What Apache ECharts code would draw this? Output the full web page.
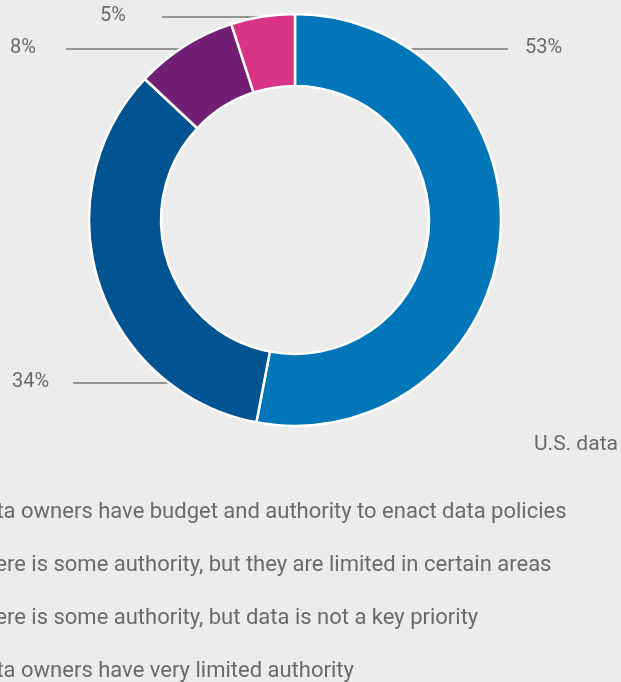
<!DOCTYPE html>
<html>
<head>
<meta charset="utf-8">
<script src="https://cdn.jsdelivr.net/npm/echarts@6/dist/echarts.min.js"></script>
<style>
html,body{margin:0;padding:0;background:#ebeceb;}
#chart{width:621px;height:682px;}
</style>
</head>
<body>
<div id="chart"></div>
<script>
const categories = [
  "Data owners have budget and authority to enact data policies",
  "There is some authority, but they are limited in certain areas",
  "There is some authority, but data is not a key priority",
  "Data owners have very limited authority"
];
const values = [53, 34, 8, 5];
const colors = ["#0376b9", "#015391", "#701f75", "#d93386"];
const subtitle = "U.S. data";

// layout (style) settings
const CX = 295, CY = 220, R_IN = 134, R_OUT = 206;
const labelAnchors = [
  { lineY: 49,  lineX: 508, textX: 525, side: 1 },
  { lineY: 383, lineX: 73,  textX: 12,  side: -1 },
  { lineY: 49,  lineX: 66,  textX: 10,  side: -1 },
  { lineY: 17,  lineX: 162, textX: 100, side: -1 }
];

const chart = echarts.init(document.getElementById('chart'), null, { renderer: 'canvas' });
const FONT = 'Roboto, "Noto Sans", sans-serif';

chart.setOption({
  backgroundColor: '#ebeceb',
  animation: false,
  title: {
    text: subtitle,
    left: 534,
    top: 434,
    padding: 0,
    textStyle: { fontFamily: FONT, fontSize: 21, fontWeight: 'normal', color: '#6a6a6a' }
  },
  legend: {
    orient: 'vertical',
    left: -61,
    top: 501,
    height: 220,
    padding: 0,
    itemGap: 31,
    itemWidth: 25,
    itemHeight: 14,
    icon: 'rect',
    textStyle: { fontFamily: FONT, fontSize: 22, fontWeight: 'normal', color: '#6a6a6a', lineHeight: 22 },
    data: categories
  },
  series: [{
    type: 'pie',
    center: [CX, CY],
    radius: [R_IN, R_OUT],
    startAngle: 90,
    clockwise: true,
    avoidLabelOverlap: false,
    itemStyle: { borderColor: '#ffffff', borderWidth: 2.5 },
    label: {
      show: true,
      position: 'outside',
      formatter: '{c}%',
      fontFamily: FONT,
      fontSize: 20,
      fontWeight: 'normal',
      color: '#6a6a6a'
    },
    labelLine: { show: true, lineStyle: { color: '#777', width: 1.5 } },
    labelLayout: function (params) {
      const a = labelAnchors[params.dataIndex];
      const dy = a.lineY - CY;
      const edgeX = CX + a.side * Math.sqrt(R_OUT * R_OUT - dy * dy);
      return {
        x: a.textX,
        y: a.lineY - 1,
        align: 'left',
        verticalAlign: 'middle',
        labelLinePoints: [[edgeX, a.lineY], [a.lineX, a.lineY], [a.lineX, a.lineY]]
      };
    },
    emphasis: { disabled: true },
    data: categories.map((name, i) => ({ name: name, value: values[i], itemStyle: { color: colors[i] } }))
  }]
});
</script>
</body>
</html>
